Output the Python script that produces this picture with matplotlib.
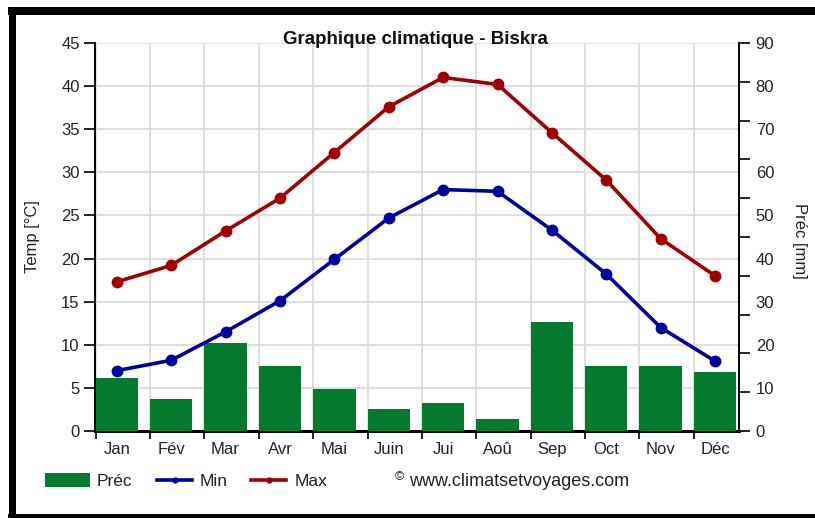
import matplotlib.pyplot as plt
import numpy as np
from matplotlib.patches import Rectangle
from matplotlib.lines import Line2D

plt.rcParams['font.family'] = ['Liberation Sans', 'DejaVu Sans']

months = ["Jan", "Fév", "Mar", "Avr", "Mai", "Juin", "Jui", "Aoû", "Sep", "Oct", "Nov", "Déc"]
t_min = [7.0, 8.2, 11.5, 15.1, 19.9, 24.7, 28.0, 27.8, 23.3, 18.2, 12.0, 8.1]
t_max = [17.3, 19.2, 23.2, 27.0, 32.3, 37.6, 41.0, 40.2, 34.6, 29.1, 22.3, 18.0]
prec = [12.3, 7.4, 20.3, 15.0, 9.8, 5.1, 6.4, 2.8, 25.3, 15.0, 15.0, 13.7]

W, H = 815, 518
green = "#047a2f"
blue = "#0000a0"
red = "#a00000"
txt = "#222222"
fs = 12

fig = plt.figure(figsize=(W / 100, H / 100), dpi=100)
fig.patch.set_facecolor("white")

def fx(px):
    return px / W

def fy(py):
    return 1 - py / H

rect = [fx(95), fy(431), fx(739) - fx(95), fy(43) - fy(431)]
x = np.arange(len(months))
bw = 0.78

# temperature axis (grid + left ticks)
ax = fig.add_axes(rect)
ax.set_xlim(-0.40, len(months) - 0.56)
ax.set_ylim(0, 45)
ax.set_yticks(np.arange(0, 46, 5))
ax.set_xticks(x - bw / 2)
ax.set_xticklabels([])
ax.set_xticks(x, minor=True)
ax.set_xticklabels(months, minor=True)
ax.tick_params(axis="x", which="major", direction="out", length=6, width=1.2, color="black")
ax.tick_params(axis="x", which="minor", length=0, pad=8, labelsize=fs, labelcolor=txt)
ax.tick_params(axis="y", direction="out", length=8, width=1.2, labelsize=fs, labelcolor=txt, pad=3)
ax.grid(True, which="major", color="#dcdcdc", linewidth=1.3)
for s in ["top", "right"]:
    ax.spines[s].set_visible(False)
ax.spines["left"].set_linewidth(1.4)
ax.spines["bottom"].set_linewidth(2.2)
ax.set_axisbelow(True)

# precipitation bars (right axis)
ax2 = ax.twinx()
ax2.set_ylim(0, 90)
ax2.bar(x, prec, width=bw, color=green, zorder=2)
ax2.yaxis.remove_overlapping_locs = False
ax2.set_yticks(np.linspace(0, 90, 11))
ax2.set_yticklabels([])
ax2.set_yticks(np.arange(0, 91, 10), minor=True)
ax2.set_yticklabels([str(v) for v in range(0, 91, 10)], minor=True)
ax2.tick_params(axis="y", which="major", direction="out", length=8, width=1.2, color="black")
ax2.tick_params(axis="y", which="minor", length=0, pad=12, labelsize=fs, labelcolor=txt)
for s in ["top", "left", "bottom"]:
    ax2.spines[s].set_visible(False)
ax2.spines["right"].set_linewidth(1.4)

# temperature lines on top
ax3 = ax.twinx()
ax3.set_ylim(0, 45)
ax3.axis("off")
ax3.plot(x, t_min, color=blue, lw=2.6, marker="o", ms=7.5, solid_capstyle="round")
ax3.plot(x, t_max, color=red, lw=2.6, marker="o", ms=7.5, solid_capstyle="round")

# titles / labels
fig.text(fx(415), fy(40), "Graphique climatique - Biskra", ha="center", va="center",
         fontsize=13.5, fontweight="bold", color="#111111")
fig.text(fx(33), fy(237), "Temp [°C]", rotation=90, ha="center", va="center", fontsize=fs, color=txt)
fig.text(fx(800), fy(241), "Préc [mm]", rotation=-90, ha="center", va="center", fontsize=fs, color=txt)

# legend
fig.add_artist(Rectangle((fx(45), fy(487)), fx(90) - fx(45), fy(473) - fy(487),
                         facecolor=green, edgecolor="none", transform=fig.transFigure))
fig.text(fx(97), fy(481), "Préc", ha="left", va="center", fontsize=12.5, color=txt)
fig.add_artist(Line2D([fx(157), fx(192)], [fy(480), fy(480)], color=blue, lw=2.6,
                      transform=fig.transFigure))
fig.add_artist(Line2D([fx(174.5)], [fy(480)], color=blue, marker="o", ms=3.5,
                      transform=fig.transFigure))
fig.text(fx(200), fy(481), "Min", ha="left", va="center", fontsize=12.5, color=txt)
fig.add_artist(Line2D([fx(251), fx(286)], [fy(480), fy(480)], color=red, lw=2.6,
                      transform=fig.transFigure))
fig.add_artist(Line2D([fx(268.5)], [fy(480)], color=red, marker="o", ms=3.5,
                      transform=fig.transFigure))
fig.text(fx(295), fy(481), "Max", ha="left", va="center", fontsize=12.5, color=txt)
fig.text(fx(395), fy(477), "©", ha="left", va="center", fontsize=9, color=txt)
fig.text(fx(409), fy(481), "www.climatsetvoyages.com", ha="left", va="center", fontsize=13, color=txt)

# outer frame
fig.add_artist(Rectangle((fx(8), fy(15)), fx(815) - fx(8), fy(7) - fy(15),
                         facecolor="black", edgecolor="none", transform=fig.transFigure))
fig.add_artist(Rectangle((fx(9), 0), fx(16) - fx(9), fy(7),
                         facecolor="black", edgecolor="none", transform=fig.transFigure))
fig.add_artist(Rectangle((fx(8), 0), fx(815) - fx(8), fy(514),
                         facecolor="black", edgecolor="none", transform=fig.transFigure))

fig.savefig("out.png", dpi=100)
